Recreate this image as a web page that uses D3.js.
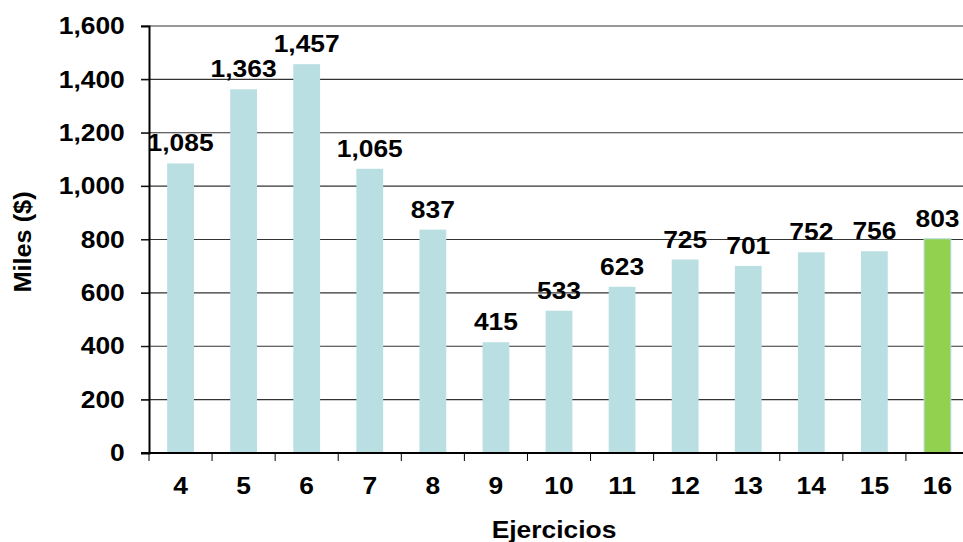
<!DOCTYPE html>
<html>
<head>
<meta charset="utf-8">
<script src="https://cdn.jsdelivr.net/npm/d3@7"></script>
<style>
  body { margin: 0; background: #fff; }
  svg { font-family: "Liberation Sans", Arial, sans-serif; font-weight: bold; }
  .axis path, .axis line { stroke: #000; }
</style>
</head>
<body>
<div id="chart"></div>
<script>
const categories = ['4', '5', '6', '7', '8', '9', '10', '11', '12', '13', '14', '15', '16'];
const values     = [1085, 1363, 1457, 1065, 837, 415, 533, 623, 725, 701, 752, 756, 803];
const yTicks     = [0, 200, 400, 600, 800, 1000, 1200, 1400, 1600];

const width  = 963,
      height = 542,
      margin = {top: 26, left: 149, bottom: 89};
const plotW  = 820,
      plotH  = height - margin.top - margin.bottom;
const stretch = 'scale(1.1,1)';

const svg = d3.select('#chart')
  .append('svg')
  .attr('width', width)
  .attr('height', height);

const g = svg.append('g')
  .attr('transform', 'translate(' + margin.left + ',' + margin.top + ')');

const x = d3.scaleBand().domain(categories).range([0, plotW]).paddingInner(0.575).paddingOuter(0.2875);
const y = d3.scaleLinear().domain([0, 1600]).range([plotH, 0]);

// gridlines
g.append('g')
  .selectAll('line')
  .data(yTicks.filter(d => d > 0))
  .join('line')
  .attr('x1', -8)
  .attr('x2', plotW)
  .attr('y1', d => y(d))
  .attr('y2', d => y(d))
  .attr('stroke', '#333')
  .attr('stroke-width', 1.2);

// bars
g.append('g')
  .selectAll('rect')
  .data(values)
  .join('rect')
  .attr('x', (d, i) => x(categories[i]))
  .attr('y', d => y(d))
  .attr('width', x.bandwidth())
  .attr('height', d => plotH - y(d))
  .attr('fill', (d, i) => i === values.length - 1 ? '#92D050' : '#BADFE3')
  .attr('stroke', (d, i) => i === values.length - 1 ? '#BADFE3' : 'none')
  .attr('stroke-width', 1);

// value labels
g.append('g')
  .selectAll('text')
  .data(values)
  .join('text')
  .attr('transform', (d, i) => 'translate(' + (x(categories[i]) + x.bandwidth() / 2) + ',' + (y(d) - 12) + ') ' + stretch)
  .attr('text-anchor', 'middle')
  .attr('font-size', 24)
  .attr('fill', '#000')
  .text(d => d3.format(',')(d));

// y axis
const yAxis = g.append('g')
  .attr('class', 'axis')
  .call(d3.axisLeft(y).tickValues(yTicks).tickSize(8).tickPadding(14).tickFormat(d3.format(',')));
yAxis.select('.domain').attr('stroke-width', 2);
yAxis.selectAll('text')
  .attr('font-size', 24)
  .attr('font-family', '"Liberation Sans", Arial, sans-serif')
  .attr('fill', '#000')
  .attr('transform', stretch);

// x axis: labels centred, ticks at band boundaries
const xAxis = g.append('g')
  .attr('class', 'axis')
  .attr('transform', 'translate(0,' + plotH + ')')
  .call(d3.axisBottom(x).tickSize(0).tickPadding(24));
xAxis.select('.domain').remove();
xAxis.selectAll('text')
  .attr('font-size', 24)
  .attr('font-family', '"Liberation Sans", Arial, sans-serif')
  .attr('fill', '#000')
  .attr('transform', stretch);

const step = x.step();
xAxis.append('line')
  .attr('x1', -8)
  .attr('x2', plotW)
  .attr('stroke', '#000')
  .attr('stroke-width', 2);
xAxis.append('g')
  .selectAll('line')
  .data(d3.range(categories.length + 1))
  .join('line')
  .attr('x1', i => i * step)
  .attr('x2', i => i * step)
  .attr('y1', 0)
  .attr('y2', 8)
  .attr('stroke', '#000');

// axis titles
svg.append('text')
  .attr('transform', 'translate(' + (margin.left + plotW / 2 - 5) + ',538) ' + stretch)
  .attr('text-anchor', 'middle')
  .attr('font-size', 24)
  .text('Ejercicios');

svg.append('text')
  .attr('transform', 'translate(31,242) rotate(-90) ' + stretch)
  .attr('text-anchor', 'middle')
  .attr('font-size', 23)
  .text('Miles ($)');
</script>
</body>
</html>
